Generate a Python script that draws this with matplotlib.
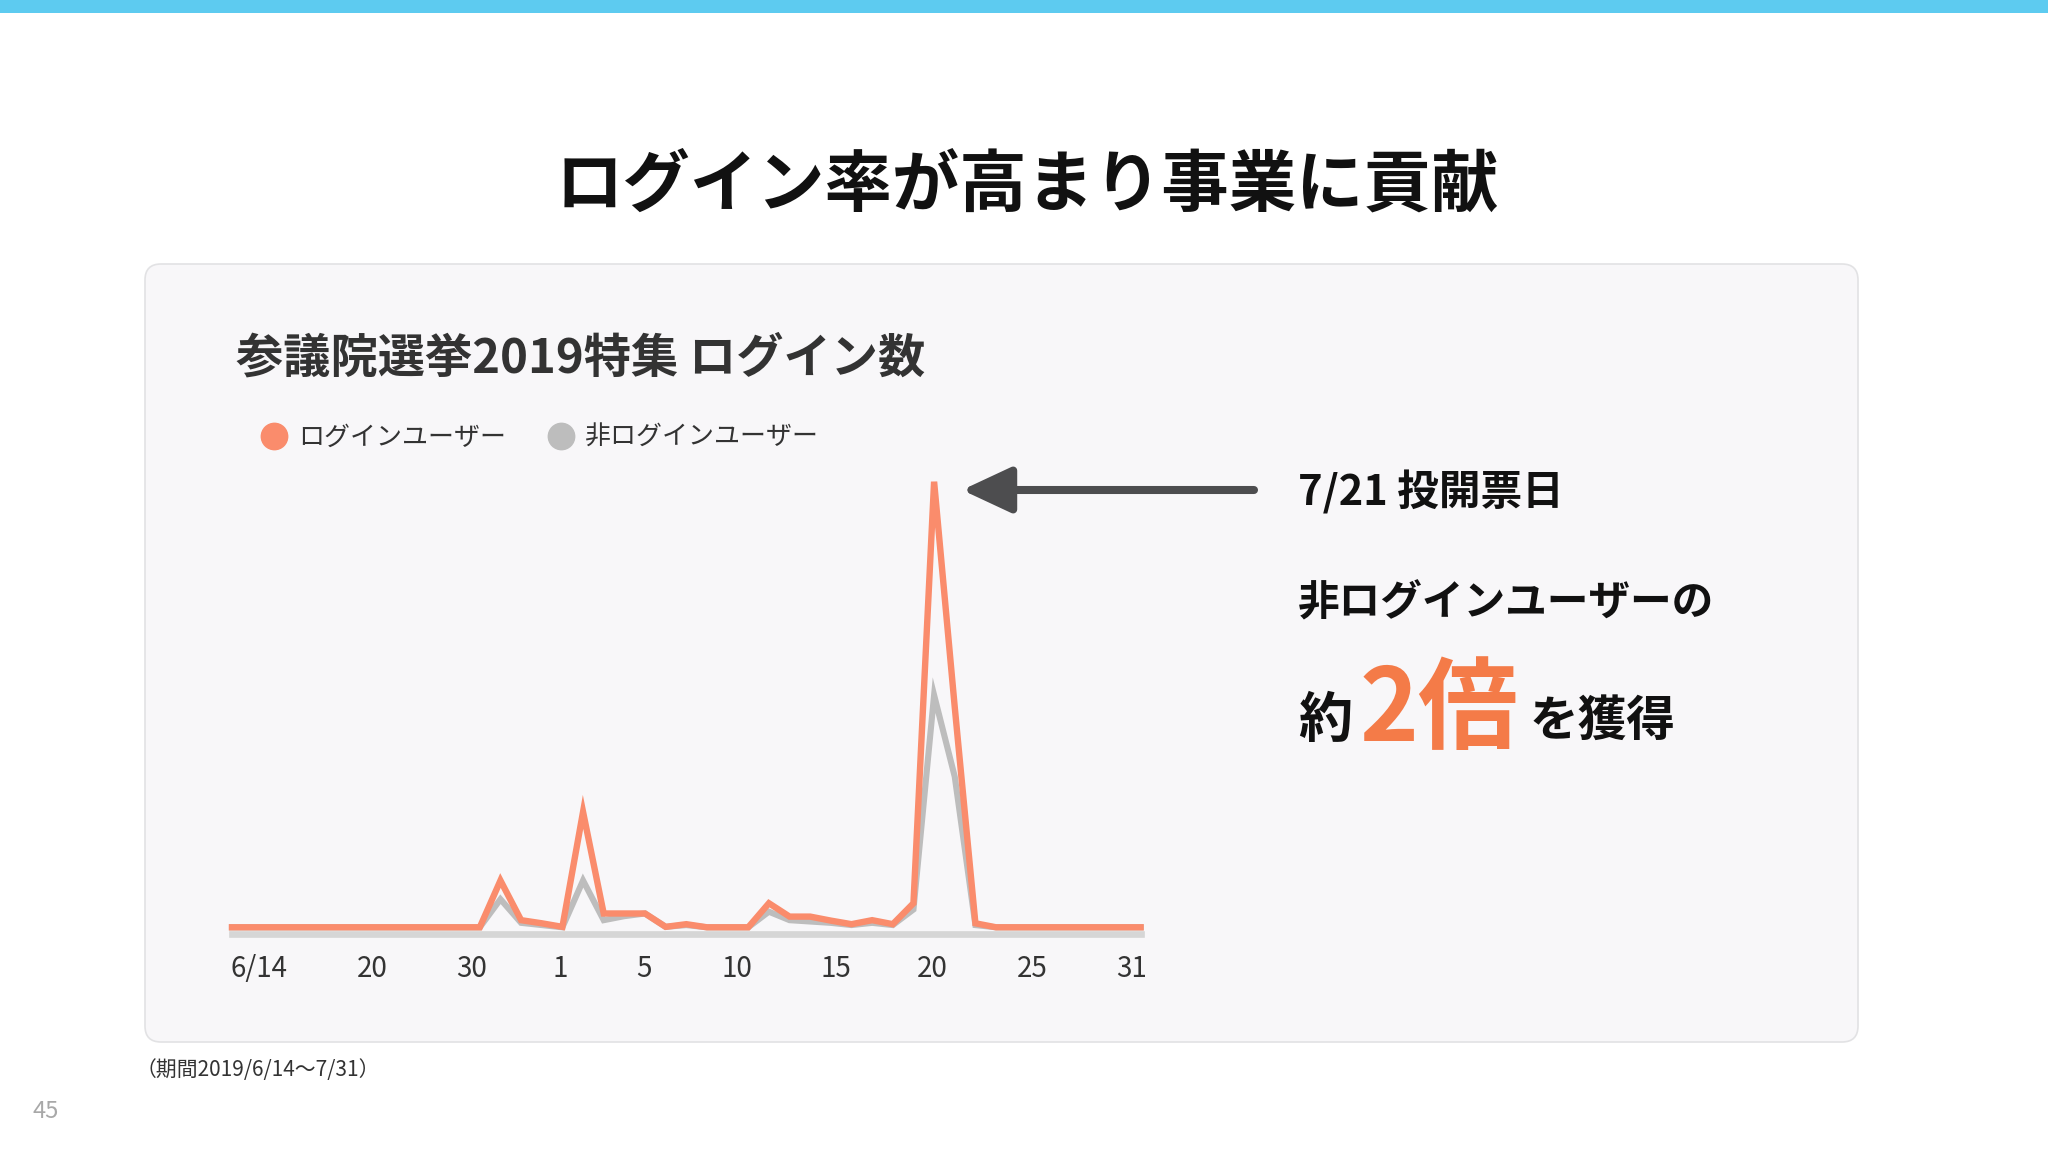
import matplotlib
matplotlib.use("Agg")
import matplotlib.pyplot as plt
from matplotlib.patches import FancyBboxPatch, Rectangle, FancyArrowPatch
from matplotlib.lines import Line2D

plt.rcParams['font.family'] = ['Noto Sans CJK JP', 'DejaVu Sans']

W, H = 2048, 1152
ORANGE, GREY, AXIS, DARK = "#FA8C6C", "#BDBDBD", "#D6D6D6", "#333333"

# 日別のログイン数 (6/14〜7/31, ピーク=100 の相対値)
DAYS = list(range(45))
LOGIN_USERS = [0, 0, 0, 0, 0, 0, 0, 0, 0, 0, 0, 0, 0,
               10.5, 1.6, 0.9, 0.1, 25.9, 3.1, 3.1, 3.1, 0.1, 0.7, 0, 0, 0,
               5.4, 2.4, 2.4, 1.5, 0.7, 1.6, 0.7, 5.4, 100, 49.4, 0.9,
               0, 0, 0, 0, 0, 0, 0, 0]
GUEST_USERS = [0, 0, 0, 0, 0, 0, 0, 0, 0, 0, 0, 0, 0,
               6.3, 1.0, 0.5, 0, 10.5, 1.6, 2.5, 3.1, 0.1, 0.5, 0, 0, 0,
               3.5, 1.6, 1.3, 1.0, 0.5, 1.0, 0.5, 4.0, 52.1, 33.8, 0.5,
               0, 0, 0, 0, 0, 0, 0, 0]
SERIES_NAMES = ["ログインユーザー", "非ログインユーザー"]
TICK_POS = [1.29, 6.78, 11.6, 15.9, 19.97, 24.45, 29.25, 33.92, 38.73, 43.54]
TICK_LABELS = ["6/14", "20", "30", "1", "5", "10", "15", "20", "25", "31"]


def fx(x):
    return x / W


def fy(y):
    return 1 - y / H


fig = plt.figure(figsize=(W / 100, H / 100), dpi=100)
fig.patch.set_facecolor("white")

# top bar + panel (display pixels), kept behind the axes
fig.patches.append(Rectangle((0, H - 13), W, 13, transform=None, fc="#5DCBF0", ec="none", zorder=-2))
fig.patches.append(FancyBboxPatch((145, H - 1042), 1713, 778, boxstyle="round,pad=0,rounding_size=16",
                                  transform=None, fc="#F8F7F9", ec="#E2E2E4", lw=1.2, zorder=-2))

fig.text(fx(1027), fy(186), "ログイン率が高まり事業に貢献", ha="center", va="center",
         fontsize=48.5, fontweight="bold", color="#111111")
fig.text(fx(236), fy(359), "参議院選挙2019特集 ログイン数", ha="left", va="center",
         fontsize=34, fontweight="bold", color=DARK)

# chart
ax = fig.add_axes([fx(232), fy(927.3), 44 * 20.65 / W, 445.6 / H])
ax.set_zorder(2)
ax.set_facecolor("none")
ax.plot(DAYS, GUEST_USERS, color=GREY, lw=4.4, solid_joinstyle="miter", clip_on=False, zorder=2)
ax.plot(DAYS, LOGIN_USERS, color=ORANGE, lw=4.6, solid_joinstyle="miter", clip_on=False, zorder=3)
ax.set_xlim(0, 44)
ax.set_ylim(0, 100)
for s in ["top", "left", "right"]:
    ax.spines[s].set_visible(False)
ax.spines["bottom"].set_position(("outward", 5))
ax.spines["bottom"].set_linewidth(4.8)
ax.spines["bottom"].set_color(AXIS)
ax.set_yticks([])
ax.set_xticks(TICK_POS, TICK_LABELS)
ax.tick_params(axis="x", length=0, pad=14, labelsize=20, labelcolor=DARK)

handles = [Line2D([], [], marker="o", ls="none", ms=19, mfc=c, mec=c) for c in (ORANGE, GREY)]
fig.legend(handles, SERIES_NAMES, loc="center left", bbox_to_anchor=(fx(261), fy(437.5)),
           bbox_transform=fig.transFigure, ncol=2, frameon=False, fontsize=18.7,
           handlelength=1.0, handletextpad=0.43, columnspacing=1.6, borderpad=0,
           borderaxespad=0, labelcolor=DARK)

# annotation
fig.patches.append(FancyArrowPatch((fx(1254), fy(490)), (fx(962), fy(490)), transform=fig.transFigure,
                                   arrowstyle="-|>,head_length=30,head_width=14", mutation_scale=1,
                                   color="#4D4D4F", lw=5.8, shrinkA=0, shrinkB=0))
fig.text(fx(1298), fy(492), "7/21 投開票日", ha="left", va="center",
         fontsize=30, fontweight="bold", color="#111111")
fig.text(fx(1298), fy(604), "非ログインユーザーの", ha="left", va="center",
         fontsize=30, fontweight="bold", color="#111111")
fig.text(fx(1298), fy(737), "約", ha="left", va="baseline", fontsize=39, fontweight="bold", color="#111111")
fig.text(fx(1360), fy(741), "2倍", ha="left", va="baseline", fontsize=72, fontweight="bold", color="#F47B48")
fig.text(fx(1530), fy(736), "を獲得", ha="left", va="baseline", fontsize=35, fontweight="bold", color="#111111")

fig.text(fx(136), fy(1070), "（期間2019/6/14〜7/31）", ha="left", va="center", fontsize=15, color=DARK)
fig.text(fx(46), fy(1111), "45", ha="center", va="center", fontsize=17, color="#A8A8A8")

fig.savefig("out.png", dpi=100)
